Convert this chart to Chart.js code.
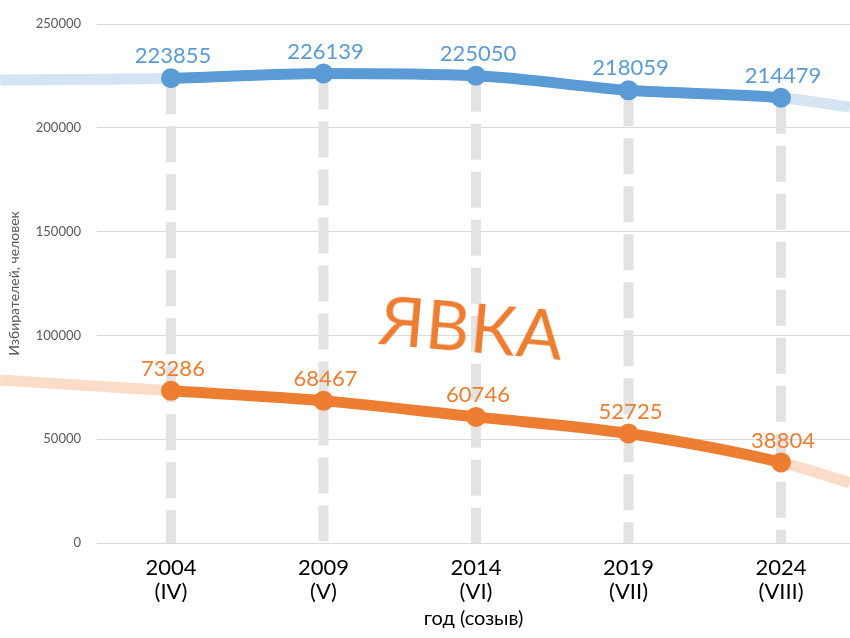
<!DOCTYPE html>
<html>
<head>
<meta charset="utf-8">
<script src="https://cdn.jsdelivr.net/npm/chart.js@4"></script>
<style>
  html, body { margin: 0; padding: 0; background: #ffffff; }
  #wrap { position: relative; width: 850px; height: 638px; overflow: hidden; }
  #c { position: absolute; left: 0; top: 0; }
  #yavka {
    position: absolute; left: 380px; top: 284px;
    font-family: Lato, sans-serif; font-size: 68px; color: #ed7d31;
    transform: rotate(5deg); transform-origin: left center;
    line-height: 1; white-space: nowrap; letter-spacing: 1px;
  }
</style>
</head>
<body>
<div id="wrap">
  <canvas id="c" width="850" height="638"></canvas>
  <div id="yavka">ЯВКА</div>
</div>
<script>
// ---- data ----
const years = [2004, 2009, 2014, 2019, 2024];
const convocations = ['(IV)', '(V)', '(VI)', '(VII)', '(VIII)'];
const electors = [223855, 226139, 225050, 218059, 214479];
const turnout = [73286, 68467, 60746, 52725, 38804];
// faded trend ends: [year, value]
const electorsTrendStart = [1998.4, 223000];
const electorsTrendEnd = [2026.26, 210000];
const turnoutTrendStart = [1998.4, 78500];
const turnoutTrendEnd = [2026.26, 29000];
const yTicks = [0, 50000, 100000, 150000, 200000, 250000];

const BLUE = '#5b9bd5', BLUE_FADE = '#d5e4f3';
const ORANGE = '#ed7d31', ORANGE_FADE = '#fadcc9';

function seriesWithTrend(start, values, end) {
  const pts = [{x: start[0], y: start[1]}];
  years.forEach((yr, i) => pts.push({x: yr, y: values[i]}));
  pts.push({x: end[0], y: end[1]});
  return pts;
}
function radii(r) {
  return [0].concat(years.map(() => r)).concat([0]);
}
function mainDataset(label, start, values, end, color, fade) {
  const pts = seriesWithTrend(start, values, end);
  const n = pts.length;
  return {
    label, data: pts, showValues: true,
    borderColor: color, backgroundColor: color,
    borderWidth: 11, cubicInterpolationMode: 'monotone',
    pointRadius: radii(10), pointBackgroundColor: color, pointBorderWidth: 0,
    pointHoverRadius: radii(10),
    clip: false, order: 0,
    segment: {
      borderColor: ctx => (ctx.p0DataIndex === 0 || ctx.p1DataIndex === n - 1) ? fade : color
    }
  };
}

const dashSets = years.map((yr, i) => ({
  label: 'drop' + yr,
  data: [{x: yr, y: electors[i]}, {x: yr, y: 0}],
  borderColor: '#e3e3e3', borderWidth: 10, borderDash: [36, 12],
  borderCapStyle: 'butt', pointRadius: 0, tension: 0, order: 5
}));

const valueLabels = {
  id: 'valueLabels',
  afterDatasetsDraw(chart) {
    const ctx = chart.ctx;
    chart.data.datasets.forEach((ds, di) => {
      if (!ds.showValues) return;
      const meta = chart.getDatasetMeta(di);
      ctx.save();
      ctx.font = '22px Lato, sans-serif';
      ctx.fillStyle = ds.borderColor;
      ctx.textAlign = 'center';
      ctx.textBaseline = 'middle';
      meta.data.forEach((pt, idx) => {
        if (idx === 0 || idx === meta.data.length - 1) return;
        const v = ds.data[idx].y;
        ctx.fillText(String(v), pt.x + 2, pt.y - 22);
      });
      ctx.restore();
    });
  }
};

new Chart(document.getElementById('c'), {
  type: 'line',
  data: {
    datasets: [
      mainDataset('Избиратели', electorsTrendStart, electors, electorsTrendEnd, BLUE, BLUE_FADE),
      mainDataset('Явка', turnoutTrendStart, turnout, turnoutTrendEnd, ORANGE, ORANGE_FADE),
      ...dashSets
    ]
  },
  options: {
    responsive: false, animation: false,
    layout: { padding: { top: 24, right: 0, bottom: 0, left: 0 } },
    plugins: { legend: { display: false }, tooltip: { enabled: false } },
    scales: {
      x: {
        type: 'linear', min: 2001.574, max: 2026.262,
        afterBuildTicks: s => { s.ticks = years.map(v => ({value: v})); },
        afterFit: s => { s.height = 95; },
        grid: { display: false, drawTicks: false },
        border: { display: false },
        ticks: {
          padding: 13, color: '#000000', maxRotation: 0, autoSkip: false,
          font: { family: 'Lato', size: 22, lineHeight: 1.1 },
          callback: (v) => { const i = years.indexOf(v); return i < 0 ? '' : [String(v), convocations[i]]; }
        },
        title: {
          display: true, text: 'год (созыв)', color: '#000000',
          font: { family: 'Lato', size: 20, lineHeight: 1.2 },
          padding: { top: 7, bottom: 7 }
        }
      },
      y: {
        min: 0, max: 250000,
        afterBuildTicks: s => { s.ticks = yTicks.map(v => ({value: v})); },
        afterFit: s => { s.width = 97; },
        grid: { color: '#d9d9d9', lineWidth: 1, drawTicks: false },
        border: { display: false },
        ticks: {
          padding: 16, color: '#595959',
          font: { family: 'Lato', size: 13 },
          callback: v => String(v)
        },
        title: {
          display: true, text: 'Избирателей, человек', color: '#595959',
          font: { family: 'Lato', size: 14, lineHeight: 1.2 },
          padding: { top: 6, bottom: 6 }
        }
      }
    }
  },
  plugins: [valueLabels]
});
</script>
</body>
</html>
